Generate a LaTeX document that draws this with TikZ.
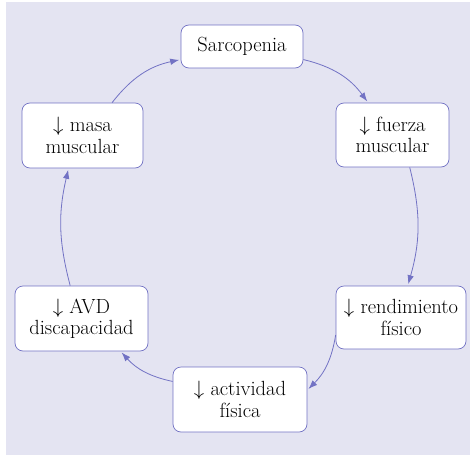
\documentclass[tikz,border=0pt]{standalone}
\usetikzlibrary{arrows.meta}
\definecolor{cyclebg}{RGB}{228,228,242}
\definecolor{cycleline}{RGB}{114,114,196}
\tikzset{% arrow tips and boxes
    >={Latex[length=9pt,width=6.5pt]},
    cyclebox/.style={draw=cycleline, line width=0.7pt, fill=white, rounded corners=8pt,
        align=center, font=\fontsize{20.5}{21.5}\selectfont, inner sep=2pt},
    cyclearrow/.style={->, draw=cycleline, line width=0.8pt, shorten >=1.5pt}
}

\begin{document}
\begin{tikzpicture}[x=1pt,y=-1pt]
    \useasboundingbox (0,0) rectangle (473,455);
    \fill[cyclebg] (6,2) rectangle (470,455);

    % boxes
    \node[cyclebox, minimum width=122pt, minimum height=43pt] (sarc) at (242,46.5) {Sarcopenia};
    \node[cyclebox, minimum width=113pt, minimum height=64pt] (fuerza) at (392.5,135) {$\downarrow$ fuerza\\muscular};
    \node[cyclebox, minimum width=130pt, minimum height=63pt] (rend) at (401,317.5) {$\downarrow$ rendimiento\\f\'{\i}sico};
    \node[cyclebox, minimum width=134pt, minimum height=65pt] (activ) at (240,399.5) {$\downarrow$ actividad\\f\'{\i}sica};
    \node[cyclebox, minimum width=133pt, minimum height=65pt] (avd) at (81.5,318.5) {$\downarrow$ AVD\\discapacidad};
    \node[cyclebox, minimum width=121pt, minimum height=65pt] (masa) at (82.5,135.5) {$\downarrow$ masa\\muscular};

    % arrows
    \draw[cyclearrow] (sarc.-12) to[bend left=20] (fuerza.127);
    \draw[cyclearrow] (fuerza.-62) to[bend left=15] (rend.78);
    \draw[cyclearrow] (rend.195) to[bend left=18] (activ.8);
    \draw[cyclearrow] (activ.165) to[bend left=18] (avd.-40);
    \draw[cyclearrow] (avd.109) to[bend left=14] (masa.247);
    \draw[cyclearrow] (masa.48) to[bend left=20] (sarc.192);
\end{tikzpicture}
\end{document}
